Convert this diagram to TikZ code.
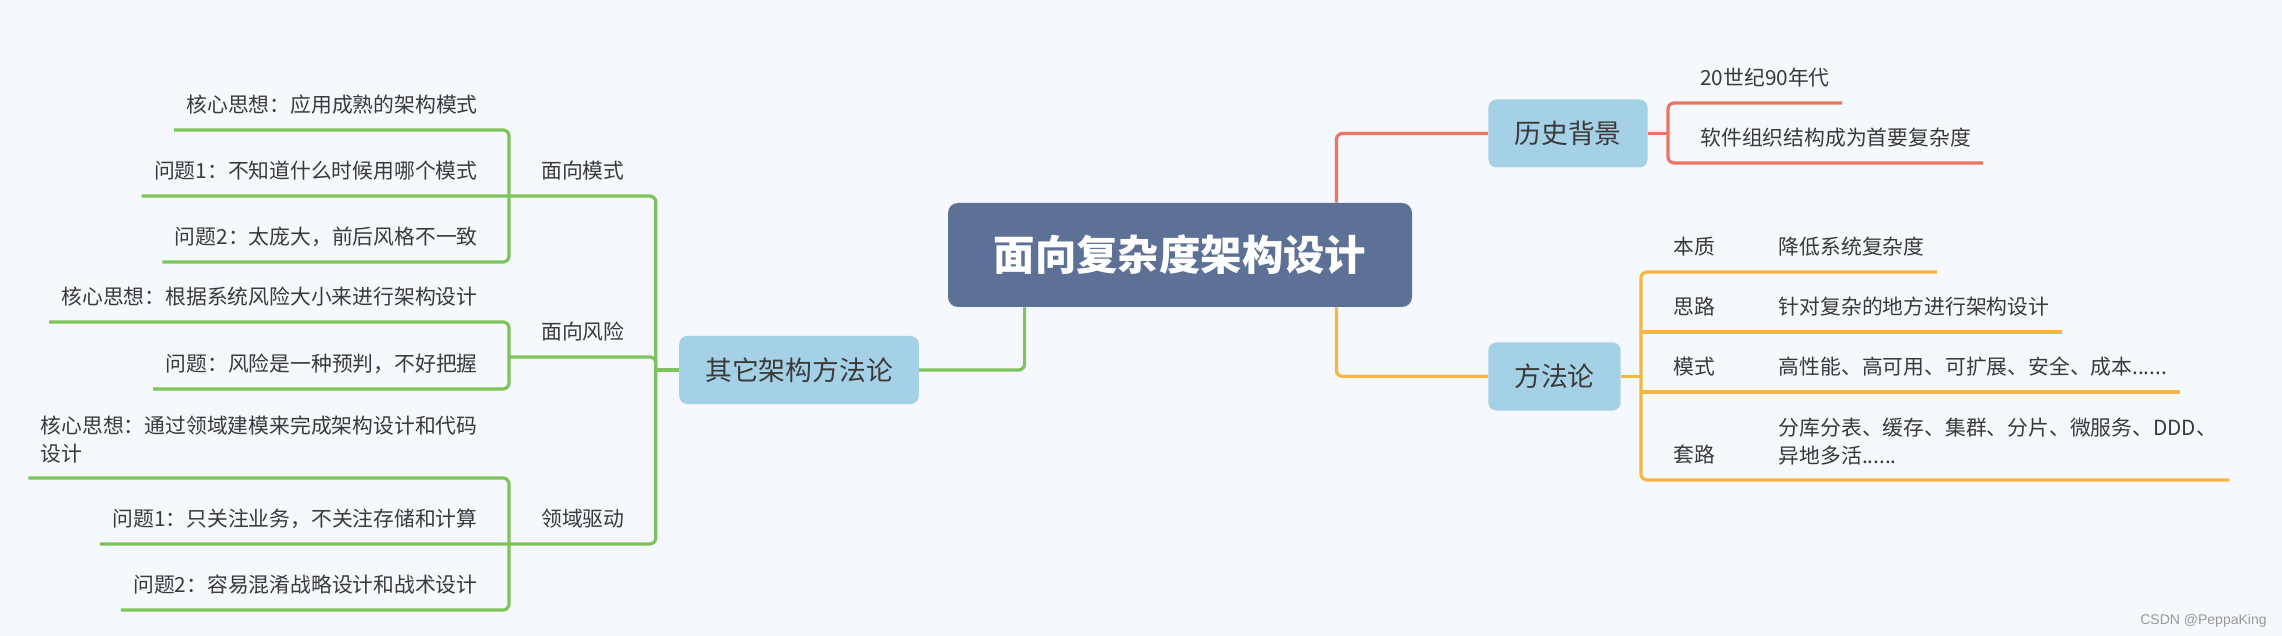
\documentclass[tikz,border=0pt]{standalone}
\usepackage{fontspec}
\usepackage{tikz}
\usetikzlibrary{positioning}
\newfontfamily\cjkfont{Noto Sans CJK SC}
\newfontfamily\wmfont{Liberation Sans}
\definecolor{bgpaper}{HTML}{F5F8FD}
\definecolor{rootblue}{HTML}{5D7196}
\definecolor{topicblue}{HTML}{A5D1E6}
\definecolor{inkgray}{HTML}{3A3A3A}
\definecolor{linegreen}{HTML}{7EC45C}
\definecolor{linered}{HTML}{EC7561}
\definecolor{lineorange}{HTML}{F5B73F}

\begin{document}
\begin{tikzpicture}[
    x=0.5pt, y=-0.5pt,
    txt/.style={font=\cjkfont\fontsize{10.4pt}{14pt}\selectfont, text=inkgray, inner xsep=6pt, inner ysep=6pt},
    leaf/.style={txt, text height=8pt, text depth=2.5pt},
    leaftwo/.style={txt, align=left, inner ysep=7pt},
    sub/.style={leaf, minimum width=73.5pt},
    topic/.style={fill=topicblue, rounded corners=4pt, text=inkgray, font=\cjkfont\fontsize{13.4pt}{16pt}\selectfont, inner xsep=13pt, minimum height=34pt},
    root/.style={fill=rootblue, rounded corners=5pt, text=white, font=\cjkfont\bfseries\fontsize{20.7pt}{24pt}\selectfont, minimum width=232pt, minimum height=52pt},
    branch/.style={line width=1.6pt, rounded corners=3pt},
    gline/.style={branch, draw=linegreen},
    rline/.style={branch, draw=linered},
    oline/.style={branch, draw=lineorange}
  ]
    \fill[bgpaper] (0,0) rectangle (2282,636);

    \node[root] (zx) at (1180,255) {面向复杂度架构设计};
    \node[topic] (lsbj) at (1568,133.5) {历史背景};
    \node[topic] (ffl) at (1554.5,376.5) {方法论};
    \node[topic] (qita) at (799,370) {其它架构方法论};

    \node[leaf, anchor=south west] (s1) at (1688,103) {20世纪90年代};
    \node[leaf, anchor=south west] (s2) at (1688,163) {软件组织结构成为首要复杂度};

    \node[leaf, anchor=south west] (fl1) at (1661,272) {本质};
    \node[leaf, anchor=south west] (fl2) at (1661,332) {思路};
    \node[leaf, anchor=south west] (fl3) at (1661,392) {模式};
    \node[leaf, anchor=south west] (fl4) at (1661,480) {套路};
    \node[leaf, right=19.5pt of fl1.south east, anchor=south west] (fc1) {降低系统复杂度};
    \node[leaf, right=19.5pt of fl2.south east, anchor=south west] (fc2) {针对复杂的地方进行架构设计};
    \node[leaf, right=19.5pt of fl3.south east, anchor=south west] (fc3) {高性能、高可用、可扩展、安全、成本......};
    \node[leaftwo, right=19.5pt of fl4.south east, anchor=south west] (fc4) {分库分表、缓存、集群、分片、微服务、DDD、\\异地多活......};

    \node[leaf, anchor=south east] (k1) at (490,130) {核心思想：应用成熟的架构模式};
    \node[leaf, anchor=south east] (k2) at (490,196) {问题1：不知道什么时候用哪个模式};
    \node[leaf, anchor=south east] (k3) at (490,262) {问题2：太庞大，前后风格不一致};
    \node[sub, right=9.5pt of k2] (mx) {面向模式};
    \node[leaf, anchor=south east] (r1) at (490,322) {核心思想：根据系统风险大小来进行架构设计};
    \node[leaf, anchor=south east] (r2) at (490,389) {问题：风险是一种预判，不好把握};
    \node[sub, anchor=south west] (fx) at (509,357) {面向风险};
    \node[leaftwo, anchor=south east] (d1) at (490,478) {核心思想：通过领域建模来完成架构设计和代码\\设计};
    \node[leaf, anchor=south east] (d2) at (490,544) {问题1：只关注业务，不关注存储和计算};
    \node[leaf, anchor=south east] (d3) at (490,610) {问题2：容易混淆战略设计和战术设计};
    \node[sub, right=9.5pt of d2] (ly) {领域驱动};

    \node[font=\wmfont\fontsize{7pt}{8pt}\selectfont, text=black!40, anchor=base east, inner sep=0pt] (csdn) at (2267,624) {CSDN @PeppaKing};

    \draw[rline] ([xshift=-38pt]zx.north east) |- (lsbj.west);
    \draw[oline] ([xshift=-38pt]zx.south east) |- (ffl.west);
    \draw[gline] ([xshift=38.5pt]zx.south west) |- (qita.east);

    \draw[rline] (lsbj.east) -- ++(10pt,0);
    \draw[rline] (s1.south east) -| ([xshift=-10pt]s2.south west) -- (s2.south east);

    \draw[oline] (ffl.east) -- ++(10pt,0);
    \draw[oline] (fc1.south east) -| ([xshift=-10pt]fl4.south west) -- (fc4.south east);
    \draw[oline] ([xshift=-10pt]fl2.south west) -- (fc2.south east);
    \draw[oline] ([xshift=-10pt]fl3.south west) -- (fc3.south east);

    \coordinate (gj) at ([xshift=-11.5pt]qita.west);
    \draw[gline] (qita.west) -- (gj);
    \draw[gline] (k2.south west) -| (gj) |- (d2.south west);
    \draw[gline] (gj) |- (fx.south west);
    \draw[gline] (k1.south west) -| ([xshift=9.5pt]k3.south east) -- (k3.south west);
    \draw[gline] (r1.south west) -| ([xshift=9.5pt]r2.south east) -- (r2.south west);
    \draw[gline] (d1.south west) -| ([xshift=9.5pt]d3.south east) -- (d3.south west);
  \end{tikzpicture}
\end{document}
